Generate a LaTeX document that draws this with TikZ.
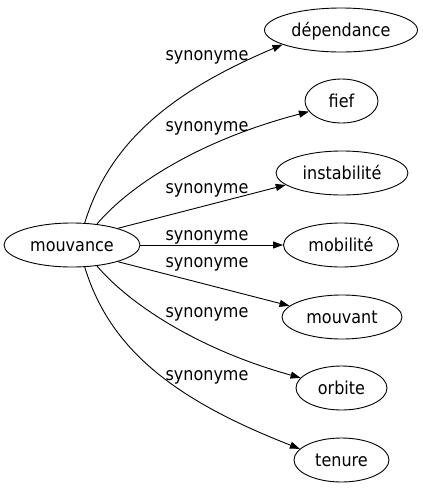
\documentclass[tikz,border=0pt]{standalone}
\usepackage{fontspec}
\setmainfont{DejaVu Sans}[FakeStretch=0.9]
\usetikzlibrary{shapes.geometric,arrows.meta}
\begin{document}
\begin{tikzpicture}[x=1pt,y=-1pt,
  word/.style={ellipse,draw,line width=0.9pt,inner sep=0pt,minimum height=44pt,
    font=\fontsize{17.8}{20}\selectfont,text height=13pt,text depth=0pt},
  lbl/.style={anchor=base,inner sep=0pt,font=\fontsize{17.8}{20}\selectfont},
  syn/.style={line width=0.9pt,-{Triangle[length=10pt,width=7pt]}}]
\useasboundingbox (0,0) rectangle (423,491);
\node[word,minimum width=136pt] (m) at (72,245) {mouvance};
\node[word,minimum width=153pt] (dep) at (341,30) {dépendance};
\node[word,minimum width=73pt] (fief) at (341.5,101) {fief};
\node[word,minimum width=132pt] (inst) at (342,173) {instabilité};
\node[word,minimum width=115pt] (mob) at (341,245) {mobilité};
\node[word,minimum width=120pt] (mvt) at (342,317) {mouvant};
\node[word,minimum width=91pt] (orb) at (341.5,388) {orbite};
\node[word,minimum width=95pt] (ten) at (341.5,460) {tenure};
\draw[syn] (m.60) .. controls (110,140) and (175,90) .. (dep.194);
\draw[syn] (m.40) .. controls (130,185) and (200,140) .. (fief.198);
\draw[syn] (m.20) -- (inst.192);
\draw[syn] (m.0) -- (mob.180);
\draw[syn] (m.-20) -- (mvt.168);
\draw[syn] (m.-40) .. controls (130,305) and (200,350) .. (orb.166);
\draw[syn] (m.-60) .. controls (110,350) and (175,400) .. (ten.165);
\node[lbl] (l1) at (207,60) {synonyme};
\node[lbl] (l2) at (207,131) {synonyme};
\node[lbl] (l3) at (207,193) {synonyme};
\node[lbl] (l4) at (207,240) {synonyme};
\node[lbl] (l5) at (207,267) {synonyme};
\node[lbl] (l6) at (207,317) {synonyme};
\node[lbl] (l7) at (207,380) {synonyme};
\end{tikzpicture}
\end{document}
